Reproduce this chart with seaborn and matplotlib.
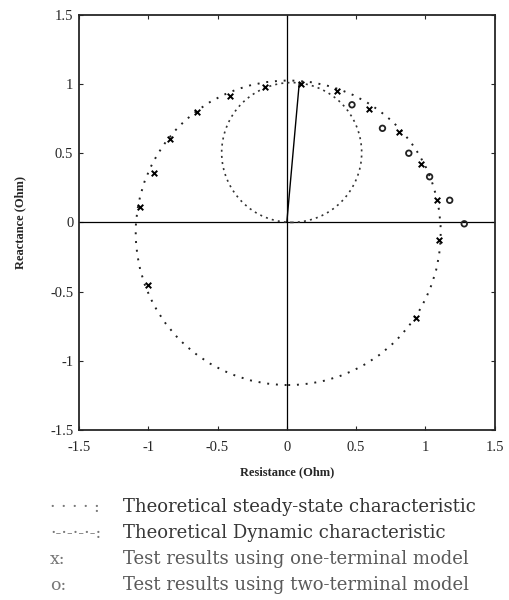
import matplotlib
matplotlib.use("Agg")
import matplotlib.pyplot as plt
from matplotlib.patches import Circle
from matplotlib.ticker import FixedLocator, FixedFormatter
import seaborn as sns
import pandas as pd

# --- Data ---
tick_values = [-1.5, -1.0, -0.5, 0.0, 0.5, 1.0, 1.5]
tick_labels = ["-1.5", "-1", "-0.5", "0", "0.5", "1", "1.5"]

# theoretical characteristics (centre x, centre y, radius)
steady_circle = (0.01, -0.075, 1.10)
dynamic_circle = (0.035, 0.505, 0.505)

# phasor line
phasor_r = [0.0, 0.09]
phasor_x = [0.0, 1.01]

# test results, one-terminal model (x)
one_term_r = [-1.06, -0.96, -0.84, -0.65, -0.41, -0.16, 0.10, 0.36, 0.59, 0.81, 0.97, 1.08, 1.10, -1.00, 0.93]
one_term_x = [0.11, 0.36, 0.605, 0.80, 0.91, 0.98, 1.00, 0.95, 0.82, 0.65, 0.42, 0.16, -0.13, -0.455, -0.69]

# test results, two-terminal model (o)
two_term_r = [0.47, 0.69, 0.88, 1.03, 1.175, 1.28]
two_term_x = [0.85, 0.68, 0.50, 0.33, 0.16, -0.01]

legend_symbols = ["\u00b7 \u00b7 \u00b7 \u00b7 :", "\u00b7-\u00b7-\u00b7-\u00b7-:", "x:", "o:"]
legend_texts = [
    "Theoretical steady-state characteristic",
    "Theoretical Dynamic characteristic",
    "Test results using one-terminal model",
    "Test results using two-terminal model",
]
legend_colors = ["#333333", "#383838", "#5a5a5a", "#5a5a5a"]

# --- Style ---
sns.set_style("ticks")
plt.rcParams["font.family"] = ["Liberation Serif", "DejaVu Serif"]
plt.rcParams["axes.unicode_minus"] = False

fig = plt.figure(figsize=(5.09, 6.0), dpi=100)
ax = fig.add_axes([0.155, 0.2833, 0.817, 0.692])

# axes through the origin
ax.axhline(0, color="black", lw=0.9, zorder=1)
ax.axvline(0, color="black", lw=0.9, zorder=1)

# theoretical circles
cx, cy, r = steady_circle
ax.add_patch(Circle((cx, cy), r, fill=False, ec="#222222", lw=1.4,
                    ls=(0, (1.0, 3.5)), zorder=2))
cx, cy, r = dynamic_circle
ax.add_patch(Circle((cx, cy), r, fill=False, ec="#333333", lw=1.2,
                    ls=(0, (1.2, 2.5)), zorder=2))

# phasor
sns.lineplot(x=phasor_r, y=phasor_x, ax=ax, color="black", lw=1.0,
             sort=False, estimator=None, legend=False)

one_df = pd.DataFrame({"R": one_term_r, "X": one_term_x})
two_df = pd.DataFrame({"R": two_term_r, "X": two_term_x})
sns.scatterplot(data=one_df, x="R", y="X", ax=ax, marker="x", s=16,
                color="black", linewidth=1.4, zorder=4)
sns.scatterplot(data=two_df, x="R", y="X", ax=ax, marker="o", s=16,
                facecolor="none", edgecolor="#222222", linewidth=1.3, zorder=4)

ax.set_xlim(-1.5, 1.5)
ax.set_ylim(-1.5, 1.5)
for axis in (ax.xaxis, ax.yaxis):
    axis.set_major_locator(FixedLocator(tick_values))
    axis.set_major_formatter(FixedFormatter(tick_labels))
ax.tick_params(direction="in", top=True, right=True, length=3, width=0.8,
               labelsize=10.5)
ax.tick_params(axis="x", pad=8)
ax.tick_params(axis="y", pad=4)
for sp in ax.spines.values():
    sp.set_linewidth(1.3)

ax.set_xlabel("Resistance (Ohm)", fontsize=9, fontweight="bold", labelpad=9)
ax.set_ylabel("Reactance (Ohm)", fontsize=9, fontweight="bold", labelpad=17)

# caption-style legend below the chart
y0 = 1 - 507 / 600
step = 26 / 600
for i, (sym, txt) in enumerate(zip(legend_symbols, legend_texts)):
    y = y0 - i * step
    fig.text(50 / 509, y, sym, fontsize=12.5, color="#777777", va="center",
             family="DejaVu Serif")
    fig.text(123 / 509, y, txt, fontsize=13, color=legend_colors[i],
             va="center", family="DejaVu Serif")

fig.savefig("out.png", dpi=100)
